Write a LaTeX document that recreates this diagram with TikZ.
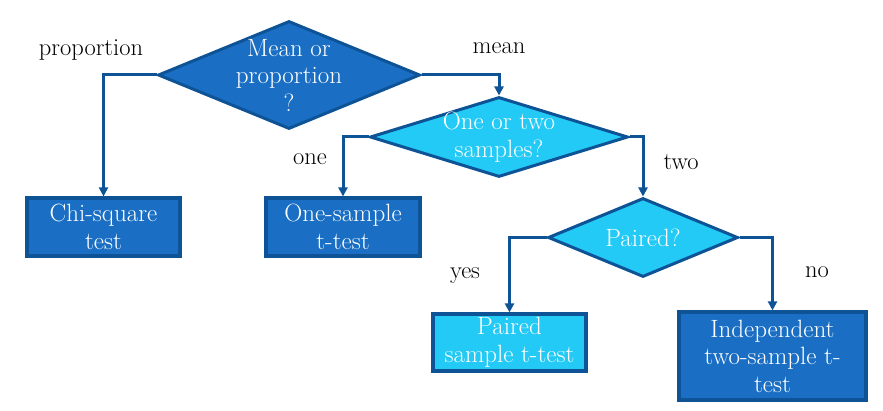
\documentclass[tikz,border=0pt]{standalone}
\usetikzlibrary{shapes.geometric,arrows.meta}
\definecolor{dblue}{HTML}{1A6FC4}
\definecolor{cyanf}{HTML}{22CAF5}
\definecolor{edgeb}{HTML}{0E5396}
\tikzset{
  dia/.style={diamond,draw=edgeb,line width=3pt,inner sep=0pt,minimum width=#1},
  boxn/.style={rectangle,draw=edgeb,line width=3.2pt,inner sep=0pt},
  wtxt/.style={text=white,align=center,font=\fontsize{25}{27.5}\selectfont},
  lbl/.style={text=black,font=\fontsize{24.5}{27}\selectfont},
  conn/.style={draw=edgeb,line width=3pt,-{Triangle[length=9pt,width=9pt]}}
}
\begin{document}
\begin{tikzpicture}[x=1pt,y=-1pt]
\useasboundingbox (0,0) rectangle (883,411);
\fill[white] (0,0) rectangle (883,411);
% diamonds
\node[dia=262pt,minimum height=108pt,fill=dblue] (d1) at (289,75) {};
\node[wtxt] (t1) at (d1) {Mean or\\proportion\\?};
\node[dia=258pt,minimum height=80pt,fill=cyanf] (d2) at (499,137) {};
\node[wtxt] (t2) at (d2) {One or two\\samples?};
\node[dia=190pt,minimum height=79pt,fill=cyanf] (d3) at (643,237.5) {};
\node[wtxt] (t3) at (d3) {Paired?};
% boxes
\node[boxn,fill=dblue,minimum width=153pt,minimum height=58pt] (chi) at (103.5,227) {};
\node[wtxt] (tchi) at (chi) {Chi-square\\test};
\node[boxn,fill=dblue,minimum width=154pt,minimum height=58pt] (one) at (343,227) {};
\node[wtxt] (tone) at (one) {One-sample\\t-test};
\node[boxn,fill=cyanf,minimum width=153pt,minimum height=57pt] (paired) at (509.5,342.5) {};
\node[wtxt] (tpaired) at (paired) {Paired\\sample t-test};
\node[boxn,fill=dblue,minimum width=187pt,minimum height=88pt] (indep) at (772.5,356) {};
\node[wtxt] (tindep) at (indep) {Independent\\two-sample t-\\test};
% connectors
\draw[conn] (d1.west) -| (chi.north);
\draw[conn] (d1.east) -| (d2.north);
\draw[conn] (d2.west) -| (one.north);
\draw[conn] (d2.east) -| (d3.north);
\draw[conn] (d3.west) -| (paired.north);
\draw[conn] (d3.east) -| (indep.north);
% labels
\node[lbl] (lprop) at (91,50) {proportion};
\node[lbl] (lmean) at (499,48) {mean};
\node[lbl] (lone) at (310,159) {one};
\node[lbl] (ltwo) at (681,162) {two};
\node[lbl] (lyes) at (465,276) {yes};
\node[lbl] (lno) at (817,272) {no};
\end{tikzpicture}
\end{document}
